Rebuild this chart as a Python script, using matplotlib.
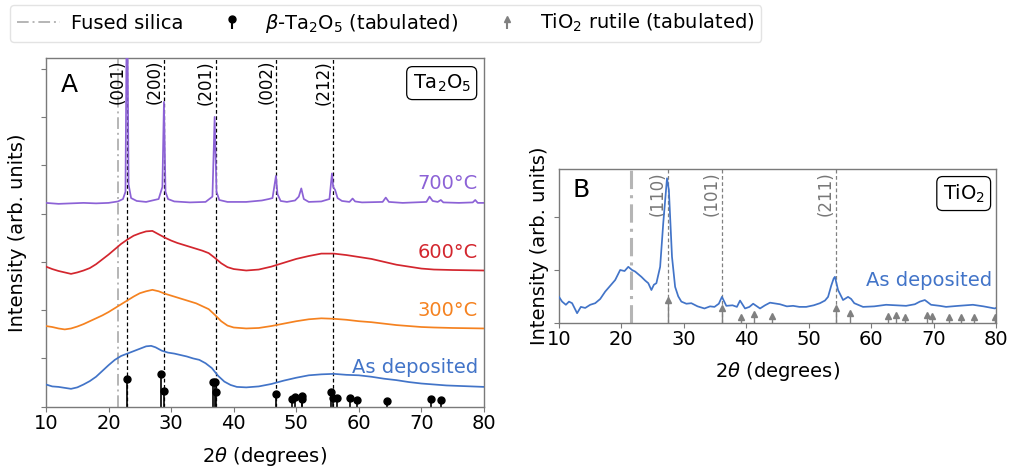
import matplotlib
matplotlib.use("Agg")
import matplotlib.pyplot as plt
from matplotlib.lines import Line2D
import numpy as np

plt.rcParams['font.family'] = ['DejaVu Sans']
plt.rcParams['mathtext.fontset'] = 'dejavusans'

# ---- Ta2O5 diffractograms (2theta, stacked intensity) ----
as_dep_ta = [(10, 0.46), (11, 0.42), (12, 0.41), (13, 0.39), (14, 0.37), (15, 0.40),
             (16, 0.46), (17, 0.53), (18, 0.62), (19, 0.74), (20, 0.86), (21, 0.97),
             (22, 1.05), (23, 1.10), (24, 1.15), (25, 1.20), (26, 1.25), (26.8, 1.26),
             (27.5, 1.23), (28.5, 1.16), (29.5, 1.12), (30.5, 1.10), (31.5, 1.07),
             (32.5, 1.04), (33.5, 1.00), (34.5, 0.97), (35.5, 0.90), (36.5, 0.80),
             (37.5, 0.64), (38.5, 0.52), (39.5, 0.45), (40.5, 0.41), (42, 0.40),
             (44, 0.42), (46, 0.47), (48, 0.54), (50, 0.60), (52, 0.65), (54, 0.67),
             (56, 0.68), (58, 0.66), (60, 0.65), (62, 0.62), (64, 0.58), (66, 0.55),
             (68, 0.51), (70, 0.48), (72, 0.46), (74, 0.44), (76, 0.43), (78, 0.42),
             (80, 0.41)]

ta_300 = [(10, 1.67), (11, 1.65), (12, 1.62), (13, 1.60), (14, 1.62), (15, 1.66),
          (16, 1.71), (17, 1.77), (18, 1.83), (19, 1.89), (20, 1.96), (21, 2.04),
          (22, 2.12), (23, 2.20), (24, 2.28), (25, 2.35), (26, 2.39), (27, 2.42),
          (28, 2.39), (29, 2.34), (30, 2.30), (31, 2.26), (32, 2.22), (33, 2.18),
          (34, 2.14), (35, 2.08), (36, 2.02), (37, 1.90), (38, 1.77), (39, 1.68),
          (40, 1.64), (42, 1.62), (44, 1.63), (46, 1.67), (48, 1.72), (50, 1.77),
          (52, 1.81), (54, 1.83), (56, 1.82), (58, 1.80), (60, 1.77), (62, 1.75),
          (64, 1.72), (66, 1.69), (68, 1.67), (70, 1.65), (72, 1.64), (75, 1.63),
          (80, 1.62)]

ta_600 = [(10, 2.90), (11, 2.85), (12, 2.81), (13, 2.78), (14, 2.75), (15, 2.78),
          (16, 2.82), (17, 2.87), (18, 2.95), (19, 3.05), (20, 3.15), (21, 3.26),
          (22, 3.37), (23, 3.46), (24, 3.54), (25, 3.59), (26, 3.63), (27, 3.64),
          (28, 3.57), (29, 3.50), (30, 3.44), (31, 3.39), (32, 3.35), (33, 3.31),
          (34, 3.27), (35, 3.23), (36, 3.18), (37, 3.08), (38, 2.97), (39, 2.89),
          (40, 2.85), (42, 2.82), (44, 2.84), (46, 2.90), (48, 2.98), (50, 3.06),
          (52, 3.12), (54, 3.17), (56, 3.17), (58, 3.14), (60, 3.10), (62, 3.06),
          (64, 3.00), (66, 2.94), (68, 2.90), (70, 2.86), (72, 2.84), (75, 2.83),
          (80, 2.82)]

ta_700 = [(10, 4.22), (12, 4.20), (14, 4.21), (16, 4.22), (18, 4.21), (20, 4.22),
          (21.5, 4.25), (22.3, 4.30), (22.7, 4.45), (22.95, 9.0), (23.2, 4.60),
          (23.6, 4.32), (24.5, 4.26), (26, 4.24), (28.0, 4.30), (28.6, 4.55),
          (28.85, 6.31), (29.1, 4.45), (29.5, 4.30), (30.5, 4.25), (33, 4.23),
          (35.5, 4.24), (36.6, 4.35), (36.95, 6.00), (37.25, 4.45), (37.7, 4.28),
          (39, 4.24), (42, 4.24), (44.5, 4.27), (45.6, 4.30), (46.2, 4.32),
          (46.75, 4.78), (47.0, 4.40), (47.5, 4.26), (48.5, 4.24), (49.8, 4.27),
          (50.4, 4.35), (50.8, 4.52), (51.2, 4.30), (52, 4.24), (54, 4.25),
          (55.3, 4.30), (55.7, 4.83), (55.9, 4.55), (56.2, 4.49), (56.6, 4.32),
          (57.3, 4.26), (58.5, 4.24), (59.0, 4.31), (59.4, 4.25), (60.5, 4.23),
          (63.8, 4.24), (64.3, 4.33), (64.8, 4.24), (67, 4.22), (70.8, 4.24),
          (71.3, 4.35), (71.8, 4.26), (72.6, 4.24), (73.1, 4.28), (73.5, 4.23),
          (76, 4.22), (78.2, 4.23), (78.6, 4.28), (79, 4.22), (80, 4.22)]

ta_series = [
    ("As deposited", as_dep_ta, "#4274c8", 0.82),
    ("300°C", ta_300, "#f58220", 2.00),
    ("600°C", ta_600, "#d3262e", 3.20),
    ("700°C", ta_700, "#8c62d6", 4.63),
]

# Tabulated beta-Ta2O5 reflections (position, relative height)
ta_ref_pos = [23.0, 28.35, 28.9, 36.7, 36.95, 37.2, 46.75, 49.3, 49.8, 50.85, 50.95,
              55.55, 55.9, 56.45, 58.6, 59.75, 64.45, 71.5, 73.1]
ta_ref_int = [0.57, 0.67, 0.32, 0.52, 0.52, 0.31, 0.26, 0.15, 0.21, 0.22, 0.15,
              0.31, 0.19, 0.17, 0.17, 0.14, 0.12, 0.15, 0.14]

ta_hkl_pos = [23.0, 28.9, 37.15, 46.8, 55.9]
ta_hkl = ["(001)", "(200)", "(201)", "(002)", "(212)"]

# ---- TiO2 diffractogram ----
as_dep_ti = [(10.0, 0.49), (10.5, 0.40), (11.1, 0.34), (11.6, 0.40), (12.1, 0.37),
             (12.9, 0.18), (13.5, 0.30), (14.2, 0.28), (15.0, 0.34), (15.8, 0.37),
             (16.6, 0.45), (17.4, 0.59), (18.2, 0.70), (19.0, 0.81), (19.8, 1.00),
             (20.5, 0.98), (21.1, 1.06), (21.7, 1.00), (22.2, 0.97), (23.2, 0.87),
             (23.8, 0.80), (24.3, 0.75), (24.8, 0.62), (25.2, 0.72), (25.6, 0.75),
             (26.2, 1.06), (26.7, 1.89), (27.3, 2.74), (27.6, 2.52), (28.1, 1.25),
             (28.6, 0.68), (29.1, 0.50), (29.6, 0.40), (30.4, 0.36), (31.2, 0.37),
             (32.2, 0.31), (33.3, 0.27), (34.2, 0.31), (34.9, 0.30), (35.6, 0.36),
             (36.1, 0.49), (36.8, 0.32), (37.8, 0.33), (38.5, 0.30), (39.0, 0.42),
             (39.8, 0.27), (40.5, 0.30), (41.1, 0.36), (42.2, 0.27), (43.0, 0.33),
             (43.8, 0.38), (45.4, 0.35), (46.5, 0.31), (47.5, 0.32), (48.5, 0.30),
             (49.6, 0.30), (50.8, 0.33), (51.8, 0.37), (52.6, 0.42), (53.1, 0.49),
             (53.6, 0.70), (54.0, 0.84), (54.2, 0.87), (54.7, 0.62), (55.5, 0.43),
             (56.3, 0.49), (56.8, 0.45), (57.3, 0.37), (58.7, 0.30), (60.5, 0.31),
             (62.4, 0.34), (64.0, 0.33), (65.6, 0.32), (67.0, 0.35), (67.8, 0.40),
             (68.6, 0.43), (69.6, 0.34), (71.0, 0.32), (72.0, 0.30), (74.0, 0.32),
             (76.3, 0.34), (78.0, 0.31), (79.8, 0.27), (80.0, 0.28)]

# Tabulated rutile reflections (position, relative height)
ti_ref_pos = [27.45, 36.1, 39.2, 41.25, 44.05, 54.3, 56.6, 62.7, 64.0, 65.5,
              68.95, 69.8, 72.4, 74.4, 76.5, 79.8]
ti_ref_int = [0.43, 0.27, 0.11, 0.17, 0.12, 0.27, 0.18, 0.12, 0.14, 0.11,
              0.15, 0.13, 0.10, 0.11, 0.11, 0.11]

ti_hkl_pos = [27.45, 36.1, 54.3]
ti_hkl = ["(110)", "(101)", "(211)"]

fused_silica = 21.5

FS = 14
W, H = 1009, 468
fig = plt.figure(figsize=(W / 100, H / 100), dpi=100)


def px_axes(left, top, right, bottom):
    return fig.add_axes([left / W, 1 - bottom / H, (right - left) / W, (bottom - top) / H])


spine_col = "#7a7a7a"


def style_axes(ax):
    for s in ax.spines.values():
        s.set_color(spine_col)
        s.set_linewidth(1.0)
    ax.tick_params(axis='both', colors=spine_col, labelcolor='black', labelsize=FS,
                   length=3.5, width=0.8, pad=1.5)
    ax.set_xlim(10, 80)
    ax.set_xticks(np.arange(10, 81, 10))
    ax.tick_params(axis='y', labelleft=False)


# ---------------- Panel A ----------------
axA = px_axes(46, 58, 484, 406.7)
style_axes(axA)
axA.set_ylim(0, 7.22)
axA.set_yticks(np.arange(0, 8, 1))

axA.axvline(fused_silica, color="#b5b5b5", ls=(0, (6, 2, 1, 2)), lw=1.4, zorder=1)
for xp, lab in zip(ta_hkl_pos, ta_hkl):
    axA.axvline(xp, color="black", ls=(0, (3, 2)), lw=0.9, zorder=1)
    axA.text(xp - 0.15, 7.18, lab, rotation=90, ha='right', va='top', fontsize=12)

for name, pts, col, ytxt in ta_series:
    xs, ys = zip(*pts)
    axA.plot(xs, ys, color=col, lw=1.25, zorder=3)
    axA.text(79.0, ytxt, name, color=col, ha='right', va='center', fontsize=FS)

ta_stem = axA.stem(ta_ref_pos, ta_ref_int, linefmt='k-', markerfmt='ko', basefmt=' ')
ta_stem.stemlines.set_linewidth(1.2)
ta_stem.markerline.set_markersize(5)

axA.text(12.3, 6.66, "A", fontsize=18, ha='left', va='center')
axA.text(77.9, 6.70, "Ta$_2$O$_5$", fontsize=FS, ha='right', va='center',
         bbox=dict(boxstyle='round,pad=0.3', fc='white', ec='black', lw=0.9))

axA.set_ylabel("Intensity (arb. units)", fontsize=FS)
axA.yaxis.set_label_coords(-0.043, 0.5)
axA.set_xlabel(r"2$\theta$ (degrees)", fontsize=FS)
axA.xaxis.set_label_coords(0.5, -0.110)

# ---------------- Panel B ----------------
axB = px_axes(559, 169.3, 996, 322.7)
style_axes(axB)
axB.set_ylim(0, 2.91)
axB.set_yticks([0, 1, 2])

axB.axvline(fused_silica, color="#b5b5b5", ls=(0, (6, 2, 1, 2)), lw=2.2, zorder=1)
for xp, lab in zip(ti_hkl_pos, ti_hkl):
    axB.axvline(xp, color="#808080", ls=(0, (3, 2)), lw=0.9, zorder=1)
    axB.text(xp - 0.2, 2.87, lab, rotation=90, ha='right', va='top', fontsize=12,
             color="#777777")

xs, ys = zip(*as_dep_ti)
axB.plot(xs, ys, color="#4274c8", lw=1.25, zorder=3)
axB.text(79.3, 0.81, "As deposited", color="#4274c8", ha='right', va='center', fontsize=FS)

ti_stem = axB.stem(ti_ref_pos, ti_ref_int, linefmt='-', markerfmt='^', basefmt=' ')
ti_stem.stemlines.set_color("#808080")
ti_stem.stemlines.set_linewidth(1.0)
ti_stem.markerline.set_color("#808080")
ti_stem.markerline.set_markersize(4)

axB.text(12.1, 2.52, "B", fontsize=18, ha='left', va='center')
axB.text(78.2, 2.45, "TiO$_2$", fontsize=FS, ha='right', va='center',
         bbox=dict(boxstyle='round,pad=0.3', fc='white', ec='black', lw=0.9))

axB.set_ylabel("Intensity (arb. units)", fontsize=FS)
axB.yaxis.set_label_coords(-0.023, 0.5)
axB.set_xlabel(r"2$\theta$ (degrees)", fontsize=FS)
axB.xaxis.set_label_coords(0.5, -0.243)

# ---------------- Legend ----------------
silica_handle = Line2D([], [], color="#b5b5b5", ls=(0, (6, 2, 1, 2)), lw=1.4)
fig.legend([silica_handle, ta_stem, ti_stem],
           ["Fused silica", r"$\beta$-Ta$_2$O$_5$ (tabulated)", "TiO$_2$ rutile (tabulated)"],
           loc='upper left', bbox_to_anchor=(10 / W, 1 - 5 / H), ncol=3, fontsize=FS,
           frameon=True, fancybox=True, edgecolor="#dddddd", handlelength=2.2,
           handletextpad=0.6, columnspacing=1.4, borderpad=0.35, borderaxespad=0)

fig.savefig("out.png", dpi=100)
